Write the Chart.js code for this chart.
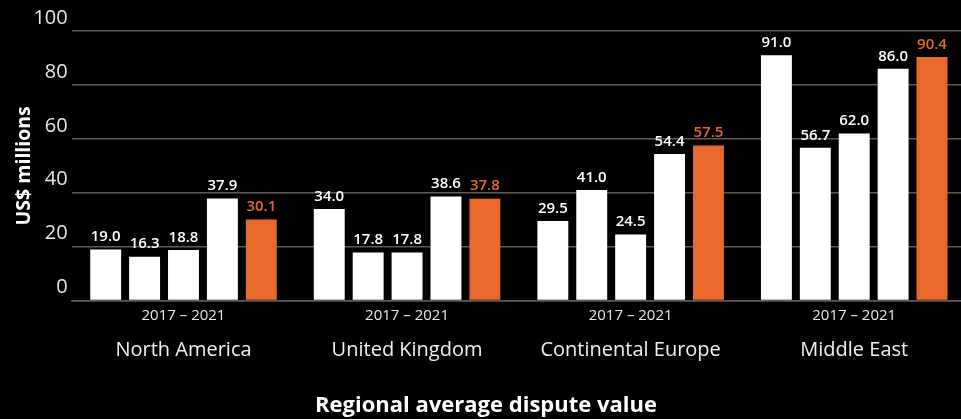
<!DOCTYPE html>
<html>
<head>
<meta charset="utf-8">
<script src="https://cdn.jsdelivr.net/npm/chart.js@4"></script>
<style>
  html, body { margin: 0; padding: 0; background: #000; overflow: hidden; }
  #wrap { width: 966px; height: 419px; position: relative; }
</style>
</head>
<body>
<div id="wrap"><canvas id="disputeChart"></canvas></div>
<script>
const regions = ['North America', 'United Kingdom', 'Continental Europe', 'Middle East'];
const periodLabel = '2017 – 2021';
const years = ['2017', '2018', '2019', '2020', '2021'];

const values2017 = [19.0, 34.0, 29.5, 91.0];
const values2018 = [16.3, 17.8, 41.0, 56.7];
const values2019 = [18.8, 17.8, 24.5, 62.0];
const values2020 = [37.9, 38.6, 54.4, 86.0];
const values2021 = [30.1, 37.8, 57.5, 90.4];

const yTicks = [0, 20, 40, 60, 80, 100];

const WHITE = '#ffffff';
const ORANGE = '#e8692b';
const FONT = '"Open Sans", Lato, sans-serif';

const seriesValues = [values2017, values2018, values2019, values2020, values2021];
const datasets = seriesValues.map(function(vals, i) {
    const colour = i === seriesValues.length - 1 ? ORANGE : WHITE;
    return {
        label: years[i],
        data: vals,
        backgroundColor: colour,
        labelColour: colour,
        barPercentage: 0.795,
        categoryPercentage: 0.87
    };
});

// value labels above each bar
const barValues = {
    id: 'barValues',
    afterDatasetsDraw(chart) {
        const ctx = chart.ctx;
        ctx.save();
        ctx.font = '600 15px ' + FONT;
        ctx.textAlign = 'center';
        ctx.textBaseline = 'bottom';
        chart.data.datasets.forEach(function(ds, i) {
            const meta = chart.getDatasetMeta(i);
            ctx.fillStyle = ds.labelColour;
            meta.data.forEach(function(bar, j) {
                ctx.fillText(ds.data[j].toFixed(1), bar.x, bar.y - 5);
            });
        });
        ctx.restore();
    }
};

const ctx = document.getElementById('disputeChart').getContext('2d');
new Chart(ctx, {
    type: 'bar',
    data: { labels: regions, datasets: datasets },
    plugins: [barValues],
    options: {
        responsive: true,
        maintainAspectRatio: false,
        animation: false,
        layout: { padding: { top: 31, right: 0, left: 6, bottom: 0 } },
        plugins: {
            legend: { display: false },
            tooltip: { enabled: false },
            title: {
                display: true,
                position: 'bottom',
                text: 'Regional average dispute value',
                color: WHITE,
                font: { family: FONT, size: 22, weight: '700' },
                padding: { top: 22, bottom: 0 }
            }
        },
        scales: {
            x: {
                grid: { display: false, drawTicks: false, tickLength: 0 },
                border: { display: true, color: '#5c5c5c', width: 1.5 },
                ticks: {
                    color: '#e6e6e6',
                    font: { family: FONT, size: 15 },
                    padding: 6,
                    callback: function() { return periodLabel; }
                }
            },
            x2: {
                type: 'category',
                labels: regions,
                position: 'bottom',
                grid: { display: false, drawTicks: false, tickLength: 0 },
                border: { display: false },
                ticks: {
                    color: '#f0f0f0',
                    font: { family: FONT, size: 20 },
                    padding: 8
                }
            },
            y: {
                min: 0,
                max: 100,
                afterBuildTicks: function(axis) {
                    axis.ticks = yTicks.map(function(v) { return { value: v }; });
                },
                grid: { color: '#5c5c5c', lineWidth: 1.5, drawTicks: false },
                border: { display: false },
                ticks: {
                    color: '#e6e6e6',
                    font: { family: FONT, size: 20 },
                    padding: 4,
                    labelOffset: -13
                },
                title: {
                    display: true,
                    text: 'US$ millions',
                    color: WHITE,
                    font: { family: FONT, size: 19.5, weight: '700' },
                    padding: { top: 7, bottom: -7 }
                }
            }
        }
    }
});
</script>
</body>
</html>
